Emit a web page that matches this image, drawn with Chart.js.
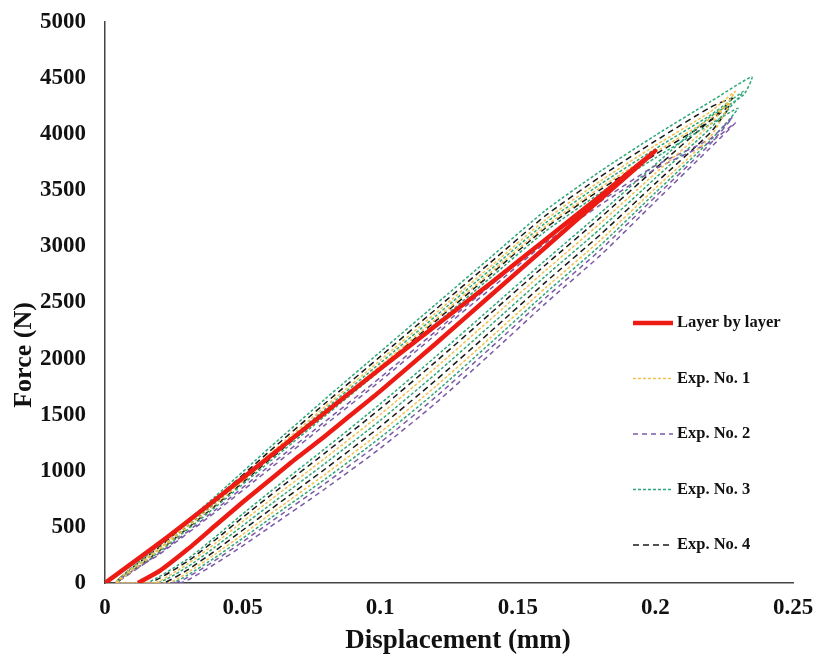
<!DOCTYPE html>
<html>
<head>
<meta charset="utf-8">
<script src="https://cdn.jsdelivr.net/npm/chart.js@4.4.1/dist/chart.umd.min.js"></script>
<style>
	html, body { margin: 0; padding: 0; background: #ffffff; }
	#wrap { width: 824px; height: 662px; }
</style>
</head>
<body>
<div id="wrap"><canvas id="force-chart" width="824" height="662"></canvas></div>
<script>
// Tick labels
const xTicks = ['0', '0.05', '0.1', '0.15', '0.2', '0.25'];
const yTicks = ['0', '500', '1000', '1500', '2000', '2500', '3000', '3500', '4000', '4500', '5000'];

// Series names and axis titles
const seriesNames = ['Layer by layer', 'Exp. No. 1', 'Exp. No. 2', 'Exp. No. 3', 'Exp. No. 4'];
const xTitle = 'Displacement (mm)';
const yTitle = 'Force (N)';

// Layer by layer model: loading then unloading back to zero
const redX = [0.012, 0.02, 0.03, 0.04, 0.05, 0.06, 0.07, 0.08, 0.09, 0.1, 0.12, 0.14, 0.16, 0.18, 0.2,
	0.18, 0.16, 0.14, 0.12, 0.1, 0.08, 0.06, 0.04, 0.02, 0];
const redY = [0, 110, 300, 510, 720, 920, 1120, 1310, 1510, 1710, 2130, 2560, 2990, 3420, 3850,
	3450, 3060, 2670, 2290, 1910, 1520, 1130, 740, 360, 0];

// Exp. No. 1 - two cycles
const exp1X = [0.004, 0.018, 0.03, 0.04, 0.05, 0.06, 0.08, 0.1, 0.12, 0.14, 0.16, 0.18, 0.2, 0.22, 0.229,
	0.22, 0.2, 0.18, 0.16, 0.14, 0.12, 0.1, 0.08, 0.06, 0.04, 0.02, 0.004,
	0.023, 0.03, 0.04, 0.05, 0.06, 0.08, 0.1, 0.12, 0.14, 0.16, 0.18, 0.2, 0.22, 0.227,
	0.22, 0.2, 0.18, 0.16, 0.14, 0.12, 0.1, 0.08, 0.06, 0.04, 0.02, 0.004];
const exp1Y = [0, 0, 169, 352, 547, 738, 1113, 1501, 1915, 2348, 2784, 3207, 3652, 4090, 4380,
	4200, 3900, 3583, 3236, 2819, 2402, 1985, 1572, 1153, 727, 315, 0,
	0, 93, 256, 432, 612, 969, 1342, 1749, 2185, 2629, 3055, 3519, 3979, 4280,
	4140, 3840, 3524, 3180, 2765, 2349, 1935, 1527, 1115, 698, 298, 0];

// Exp. No. 2 - two cycles
const exp2X = [0.004, 0.027, 0.03, 0.04, 0.05, 0.06, 0.08, 0.1, 0.12, 0.14, 0.16, 0.18, 0.2, 0.22, 0.229,
	0.22, 0.2, 0.18, 0.16, 0.14, 0.12, 0.1, 0.08, 0.06, 0.04, 0.02, 0.004,
	0.025, 0.03, 0.04, 0.05, 0.06, 0.08, 0.1, 0.12, 0.14, 0.16, 0.18, 0.2, 0.22, 0.228,
	0.22, 0.2, 0.18, 0.16, 0.14, 0.12, 0.1, 0.08, 0.06, 0.04, 0.02, 0.004];
const exp2Y = [0, 0, 25, 170, 330, 500, 840, 1200, 1600, 2040, 2490, 2920, 3400, 3880, 4100,
	3930, 3690, 3370, 3030, 2620, 2210, 1800, 1410, 1020, 630, 260, 0,
	0, 50, 201, 367, 541, 887, 1252, 1654, 2093, 2540, 2969, 3443, 3916, 4150,
	3960, 3720, 3400, 3060, 2650, 2240, 1830, 1440, 1050, 650, 270, 0];

// Exp. No. 3 - three cycles
const exp3X = [0.004, 0.015, 0.03, 0.04, 0.05, 0.06, 0.08, 0.1, 0.12, 0.14, 0.16, 0.18, 0.2, 0.22, 0.232, 0.235,
	0.22, 0.2, 0.18, 0.16, 0.14, 0.12, 0.1, 0.08, 0.06, 0.04, 0.02, 0.004,
	0.019, 0.03, 0.04, 0.05, 0.06, 0.08, 0.1, 0.12, 0.14, 0.16, 0.18, 0.2, 0.22, 0.232,
	0.22, 0.2, 0.18, 0.16, 0.14, 0.12, 0.1, 0.08, 0.06, 0.04, 0.02, 0.004,
	0.024, 0.03, 0.04, 0.05, 0.06, 0.08, 0.1, 0.12, 0.14, 0.16, 0.18, 0.2, 0.22, 0.23,
	0.22, 0.2, 0.18, 0.16, 0.14, 0.12, 0.1, 0.08, 0.06, 0.04, 0.02, 0.004];
const exp3Y = [0, 0, 214, 409, 615, 813, 1199, 1596, 2014, 2445, 2876, 3297, 3731, 4156, 4350, 4510,
	4290, 3990, 3670, 3320, 2900, 2480, 2060, 1640, 1210, 770, 340, 0,
	0, 144, 321, 510, 697, 1066, 1449, 1861, 2295, 2734, 3158, 3609, 4054, 4380,
	4170, 3870, 3554, 3208, 2792, 2376, 1960, 1550, 1134, 712, 306, 0,
	0, 70, 227, 398, 575, 926, 1295, 1699, 2137, 2582, 3010, 3479, 3946, 4230,
	4090, 3790, 3476, 3134, 2720, 2306, 1894, 1490, 1084, 674, 284, 0];

// Exp. No. 4 - two cycles
const exp4X = [0.004, 0.016, 0.03, 0.04, 0.05, 0.06, 0.08, 0.1, 0.12, 0.14, 0.16, 0.18, 0.2, 0.22, 0.228,
	0.22, 0.2, 0.18, 0.16, 0.14, 0.12, 0.1, 0.08, 0.06, 0.04, 0.02, 0.004,
	0.021, 0.03, 0.04, 0.05, 0.06, 0.08, 0.1, 0.12, 0.14, 0.16, 0.18, 0.2, 0.22, 0.227,
	0.22, 0.2, 0.18, 0.16, 0.14, 0.12, 0.1, 0.08, 0.06, 0.04, 0.02, 0.004];
const exp4Y = [0, 0, 193, 383, 584, 779, 1160, 1553, 1969, 2401, 2834, 3256, 3695, 4126, 4320,
	4240, 3940, 3621, 3273, 2855, 2436, 2018, 1602, 1178, 746, 326, 0,
	0, 117, 287, 470, 653, 1016, 1394, 1803, 2238, 2679, 3105, 3562, 4015, 4250,
	4120, 3820, 3505, 3162, 2747, 2332, 1919, 1512, 1103, 688, 292, 0];

// turn two arrays into {x, y} points
function toPoints(xs, ys) {
	return xs.map(function (x, i) {
		return { x: x, y: ys[i] };
	});
}

const serif = "'Liberation Serif', 'Times New Roman', serif";

// Legend drawn inside the plot, right side, widely spaced like the original,
// plus both axis titles (placed by hand, slightly off centre like the original)
const extras = {
	id: 'extras',
	afterDraw: function (chart) {
		const ctx = chart.ctx;
		const area = chart.chartArea;
		const x0 = area.left + 528;
		let y = area.bottom - 260;
		ctx.save();
		ctx.font = 'bold 16.5px ' + serif;
		ctx.textBaseline = 'middle';
		chart.data.datasets.forEach(function (ds) {
			ctx.beginPath();
			ctx.strokeStyle = ds.borderColor;
			ctx.lineWidth = ds.borderWidth;
			ctx.setLineDash(ds.borderDash || []);
			ctx.moveTo(x0, y);
			ctx.lineTo(x0 + 40, y);
			ctx.stroke();
			ctx.setLineDash([]);
			ctx.fillStyle = '#111111';
			ctx.fillText(ds.label, x0 + 44, y);
			y += 55.5;
		});

		// x axis title
		ctx.textAlign = 'center';
		ctx.font = 'bold 27px ' + serif;
		ctx.fillText(xTitle, area.left + 353, area.bottom + 58);

		// y axis title
		ctx.translate(24, area.bottom - 228);
		ctx.rotate(-Math.PI / 2);
		ctx.font = 'bold 26px ' + serif;
		ctx.fillText(yTitle, 0, 0);
		ctx.restore();
	}
};

const ctx = document.getElementById('force-chart').getContext('2d');

const chart = new Chart(ctx, {
	type: 'scatter',
	data: {
		datasets: [
			{
				label: seriesNames[0],
				data: toPoints(redX, redY),
				borderColor: '#ec1b14',
				borderWidth: 4.5
			},
			{
				label: seriesNames[1],
				data: toPoints(exp1X, exp1Y),
				borderColor: '#f2c14e',
				borderWidth: 1.5,
				borderDash: [3, 2]
			},
			{
				label: seriesNames[2],
				data: toPoints(exp2X, exp2Y),
				borderColor: '#7b5aa6',
				borderWidth: 1.5,
				borderDash: [5, 4]
			},
			{
				label: seriesNames[3],
				data: toPoints(exp3X, exp3Y),
				borderColor: '#2ea878',
				borderWidth: 1.5,
				borderDash: [3, 2]
			},
			{
				label: seriesNames[4],
				data: toPoints(exp4X, exp4Y),
				borderColor: '#1a1a1a',
				borderWidth: 1.5,
				borderDash: [6, 4]
			}
		]
	},
	options: {
		responsive: false,
		animation: false,
		showLine: true,
		elements: {
			point: { radius: 0 },
			line: { tension: 0.2, fill: false }
		},
		layout: {
			padding: { top: 22, right: 31, left: 0, bottom: 0 }
		},
		plugins: {
			legend: { display: false },
			tooltip: { enabled: false }
		},
		scales: {
			x: {
				type: 'linear',
				min: 0,
				max: 0.25,
				afterFit: function (scale) {
					scale.height = 79;
					scale.paddingLeft = 0;
					scale.paddingRight = 0;
				},
				ticks: {
					stepSize: 0.05,
					padding: 11,
					color: '#111111',
					font: { family: serif, size: 23, weight: 'bold' },
					callback: function (value, index) { return xTicks[index]; }
				},
				grid: { display: false, drawTicks: false },
				border: { display: true, color: '#444444', width: 1.5 }
			},
			y: {
				type: 'linear',
				min: 0,
				max: 5000,
				afterFit: function (scale) {
					scale.width = 105;
					// let the top label hang into the layout padding
					scale.paddingTop = 0;
					scale.paddingBottom = 0;
				},
				ticks: {
					stepSize: 500,
					padding: 19,
					color: '#111111',
					font: { family: serif, size: 23, weight: 'bold' },
					callback: function (value, index) { return yTicks[index]; }
				},
				grid: { display: false, drawTicks: false },
				border: { display: true, color: '#444444', width: 1.5 }
			}
		}
	},
	plugins: [extras]
});
</script>
</body>
</html>
